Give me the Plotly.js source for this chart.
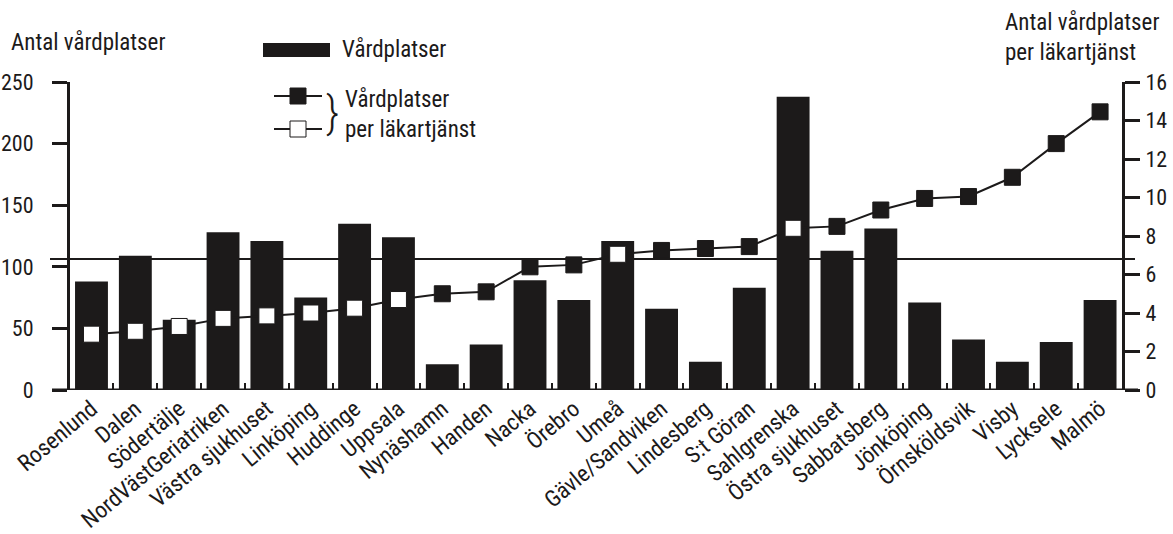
<!DOCTYPE html>
<html>
<head>
<meta charset="utf-8">
<script src="https://cdn.plot.ly/plotly-3.0.1.min.js"></script>
<style>html,body{margin:0;padding:0;background:#fff;}#chart{width:1173px;height:534px;}</style>
</head>
<body>
<div id="chart"></div>
<script>
// ---- data ----
const categories = ["Rosenlund","Dalen","Södertälje","NordVästGeriatriken","Västra sjukhuset","Linköping","Huddinge","Uppsala","Nynäshamn","Handen","Nacka","Örebro","Umeå","Gävle/Sandviken","Lindesberg","S:t Göran","Sahlgrenska","Östra sjukhuset","Sabbatsberg","Jönköping","Örnsköldsvik","Visby","Lycksele","Malmö"];
const beds = [88,109,57,128,121,75,135,124,21,37,89,73,121,66,23,83,238,113,131,71,41,23,39,73];
const bedsPerDoctor = [2.9,3.05,3.3,3.72,3.85,4.0,4.25,4.7,5.0,5.1,6.4,6.5,7.05,7.25,7.35,7.45,8.4,8.5,9.35,9.95,10.05,11.05,12.8,14.45];
const openMarker = [true,true,true,true,true,true,true,true,false,false,false,false,true,false,false,false,true,false,false,false,false,false,false,false];
const referenceLevel = 6.8;
const leftTicks = [0,50,100,150,200,250];
const rightTicks = [0,2,4,6,8,10,12,14,16];

const FONT = "'Roboto Condensed','DejaVu Sans Condensed',sans-serif";
const INK = "#1c1a1a";

// plot area in pixels (for paper-coordinate decorations)
const L = 70, R = 1122, T = 82, B = 390;
const px = x => (x - L) / (R - L);
const py = y => (B - y) / (B - T);

const bars = {
  type: "bar", x: categories, y: beds, yaxis: "y",
  marker: {color: INK, line: {width: 0}}, width: 0.75,
  name: "Vårdplatser", showlegend: false, hoverinfo: "x+y"
};
const line = {
  type: "scatter", mode: "lines+markers", x: categories, y: bedsPerDoctor, yaxis: "y2",
  line: {color: INK, width: 2},
  marker: {symbol: "square", size: 16, color: openMarker.map(o => o ? "#ffffff" : INK), line: {color: INK, width: 1}},
  name: "Vårdplatser per läkartjänst", showlegend: false, cliponaxis: false
};

const shapes = [
  {type: "line", xref: "paper", yref: "y", x0: px(52), x1: px(1138), y0: 0, y1: 0, line: {color: INK, width: 3}},
  {type: "line", xref: "paper", yref: "y2", x0: px(50), x1: px(1135), y0: referenceLevel, y1: referenceLevel, line: {color: INK, width: 2}, layer: "below"},
  {type: "rect", xref: "paper", yref: "paper", x0: px(263), x1: px(330), y0: py(57), y1: py(43), fillcolor: INK, line: {width: 0}},
  {type: "line", xref: "paper", yref: "paper", x0: px(274), x1: px(322), y0: py(96), y1: py(96), line: {color: INK, width: 2}},
  {type: "rect", xref: "paper", yref: "paper", x0: px(290), x1: px(306), y0: py(104), y1: py(88), fillcolor: INK, line: {color: INK, width: 1}},
  {type: "line", xref: "paper", yref: "paper", x0: px(274), x1: px(322), y0: py(129), y1: py(129), line: {color: INK, width: 2}},
  {type: "rect", xref: "paper", yref: "paper", x0: px(290), x1: px(306), y0: py(137), y1: py(121), fillcolor: "#ffffff", line: {color: INK, width: 1}}
];

const tf = {family: FONT, size: 23, color: INK};
const nf = {family: FONT, size: 22, color: INK};
const annotations = [
  {xref: "paper", yref: "paper", x: px(9), y: py(43), xanchor: "left", yanchor: "middle", text: "Antal vårdplatser", showarrow: false, font: tf},
  {xref: "paper", yref: "paper", x: px(1003), y: py(37), xanchor: "left", yanchor: "middle", text: "Antal vårdplatser<br>per läkartjänst", showarrow: false, font: tf, align: "left"},
  {xref: "paper", yref: "paper", x: px(340), y: py(50), xanchor: "left", yanchor: "middle", text: "Vårdplatser", showarrow: false, font: tf},
  {xref: "paper", yref: "paper", x: px(324), y: py(113), xanchor: "left", yanchor: "middle", text: "}", showarrow: false, font: {family: FONT, size: 44, color: INK, weight: 300}},
  {xref: "paper", yref: "paper", x: px(343), y: py(114), xanchor: "left", yanchor: "middle", text: "Vårdplatser<br>per läkartjänst", showarrow: false, font: tf, align: "left"}
];

const layout = {
  width: 1173, height: 534,
  margin: {l: L, r: 1173 - R, t: T, b: 534 - B},
  paper_bgcolor: "#ffffff", plot_bgcolor: "#ffffff",
  showlegend: false, bargap: 0.25,
  font: {family: FONT, size: 22, color: INK},
  xaxis: {
    type: "category", range: [-0.49, 23.5], showgrid: false, zeroline: false, showline: false,
    ticks: "inside", tickson: "boundaries", ticklen: 7, tickwidth: 2, tickcolor: INK,
    tickangle: -40, tickfont: tf, automargin: false
  },
  yaxis: {
    range: [0, 250], tickvals: leftTicks, showgrid: false, zeroline: false,
    showline: true, linewidth: 3, linecolor: INK, ticks: "outside", ticklen: 15, tickwidth: 3, tickcolor: INK,
    ticklabelstandoff: 14, tickfont: nf, automargin: false
  },
  yaxis2: {
    overlaying: "y", side: "right", range: [0, 16], tickvals: rightTicks, showgrid: false, zeroline: false,
    showline: true, linewidth: 3, linecolor: INK, ticks: "outside", ticklen: 15, tickwidth: 3, tickcolor: INK,
    ticklabelstandoff: 1, tickfont: nf, automargin: false
  },
  shapes: shapes, annotations: annotations
};

Plotly.newPlot("chart", [bars, line], layout, {displayModeBar: false, staticPlot: true});
</script>
</body>
</html>
